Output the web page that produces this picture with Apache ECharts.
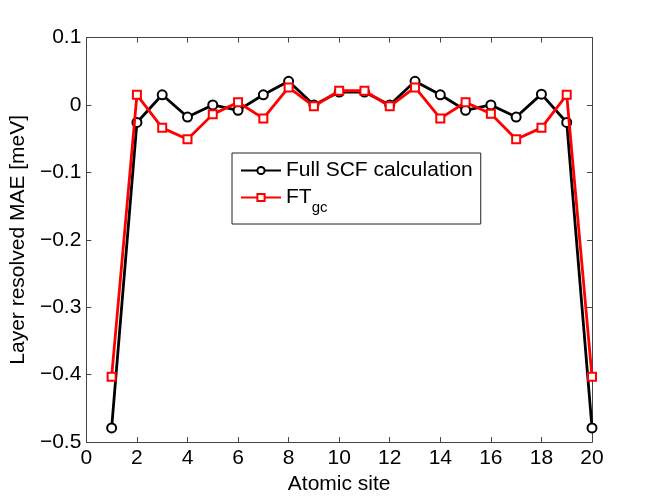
<!DOCTYPE html>
<html>
<head>
<meta charset="utf-8">
<script src="https://cdn.jsdelivr.net/npm/echarts@6/dist/echarts.min.js"></script>
<style>
  html, body { margin: 0; padding: 0; background: #fff; }
  #main { width: 654px; height: 500px; }
</style>
</head>
<body>
<div id="main"></div>
<script>
// data
const sites = [1, 2, 3, 4, 5, 6, 7, 8, 9, 10, 11, 12, 13, 14, 15, 16, 17, 18, 19, 20];
const fullScf = [-0.479, -0.026, 0.015, -0.018, 0.0, -0.008, 0.015, 0.035, 0.0, 0.019,
                 0.019, 0.0, 0.035, 0.015, -0.008, 0.0, -0.018, 0.016, -0.026, -0.479];
const ftGc = [-0.403, 0.015, -0.034, -0.051, -0.014, 0.004, -0.02, 0.026, -0.002, 0.021,
              0.021, -0.002, 0.026, -0.02, 0.004, -0.013, -0.051, -0.034, 0.015, -0.403];

const font = "Liberation Sans";
const fs = 21;
const axisGray = "#444";

const chart = echarts.init(document.getElementById("main"));

const pairs = (ys) => sites.map((x, i) => [x, ys[i]]);
const fmtY = (v) => {
  if (Math.abs(v) < 1e-9) return "0";
  return v.toFixed(1).replace("-", "\u2212");
};

// box axes (matlab style): same line + inward ticks on all four sides
const boxLine = { show: true, onZero: false, lineStyle: { color: axisGray, width: 1 } };
const boxTick = { show: true, inside: true, length: 5, lineStyle: { color: axisGray } };

const option = {
  animation: false,
  grid: { left: 85, right: 62, top: 37.5, bottom: 55 },
  legend: {
    orient: "vertical",
    left: 232,
    top: 153,
    padding: [7, 8, 9, 8],
    itemGap: 6,
    itemWidth: 40,
    itemHeight: 9,
    borderColor: "#222",
    borderWidth: 1,
    backgroundColor: "#fff",
    textStyle: {
      fontFamily: font,
      fontSize: fs,
      color: "#000",
      rich: {
        main: { fontFamily: font, fontSize: fs, color: "#000" },
        sub: { fontFamily: font, fontSize: 15, color: "#000", padding: [20, 0, 0, 0] }
      }
    },
    formatter: (name) => (name === "FTgc" ? "{main|FT}{sub|gc}" : name),
    data: ["Full SCF calculation", "FTgc"]
  },
  xAxis: [
    {
      type: "value",
      min: 0,
      max: 20,
      interval: 2,
      name: "Atomic site",
      nameLocation: "middle",
      nameGap: 29,
      nameTextStyle: { fontFamily: font, fontSize: fs, color: "#000" },
      axisLine: boxLine,
      axisTick: boxTick,
      axisLabel: { fontFamily: font, fontSize: fs, color: "#000", margin: 6 },
      splitLine: { show: false }
    },
    {
      type: "value",
      position: "top",
      min: 0,
      max: 20,
      interval: 2,
      axisLine: boxLine,
      axisTick: boxTick,
      axisLabel: { show: false },
      splitLine: { show: false }
    }
  ],
  yAxis: [
    {
      type: "value",
      min: -0.5,
      max: 0.1,
      interval: 0.1,
      name: "Layer resolved MAE [meV]",
      nameLocation: "middle",
      nameGap: 54,
      nameTextStyle: { fontFamily: font, fontSize: fs, color: "#000" },
      axisLine: boxLine,
      axisTick: boxTick,
      axisLabel: { fontFamily: font, fontSize: fs, color: "#000", margin: 5, formatter: fmtY },
      splitLine: { show: false }
    },
    {
      type: "value",
      position: "right",
      min: -0.5,
      max: 0.1,
      interval: 0.1,
      axisLine: boxLine,
      axisTick: boxTick,
      axisLabel: { show: false },
      splitLine: { show: false }
    }
  ],
  series: [
    {
      name: "Full SCF calculation",
      type: "line",
      data: pairs(fullScf),
      symbol: "emptyCircle",
      symbolSize: 9,
      color: "#000",
      lineStyle: { color: "#000", width: 2.8 },
      itemStyle: { color: "#000", borderColor: "#000", borderWidth: 2.5 },
      z: 2
    },
    {
      name: "FTgc",
      type: "line",
      data: pairs(ftGc),
      symbol: "emptyRect",
      symbolSize: 8,
      color: "#f00",
      lineStyle: { color: "#f00", width: 2.8 },
      itemStyle: { color: "#f00", borderColor: "#f00", borderWidth: 2.8 },
      z: 3
    }
  ]
};

chart.setOption(option);
</script>
</body>
</html>
